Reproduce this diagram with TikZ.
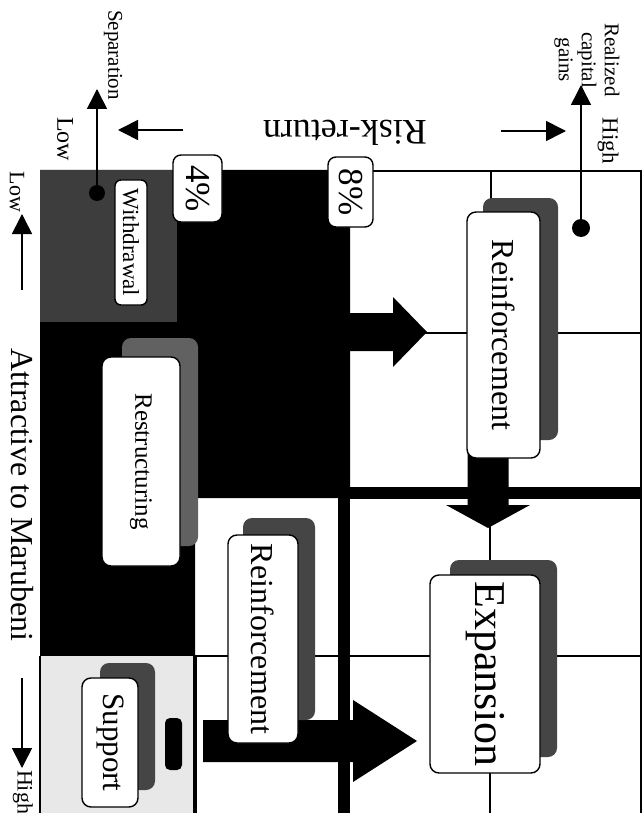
\documentclass[tikz,border=0pt]{standalone}
\usepackage{fontspec}
\setmainfont{Liberation Serif}
\usetikzlibrary{arrows.meta}
\newcommand{\fs}[1]{\fontsize{#1}{#1}\selectfont}
\begin{document}
\begin{tikzpicture}[x=1pt,y=-1pt,
  box/.style={draw, fill=white, rounded corners=9pt, line width=1.4pt, inner sep=0pt, rotate=-90},
  shadowbox/.style={fill=black!73, rounded corners=9pt},
  gridline/.style={line width=1.6pt},
  axis/.style={line width=1.6pt, -{Triangle[length=20pt,width=20pt]}},
  lbl/.style={inner sep=0pt, rotate=-90},
  blockarrow/.style={fill=black},
]
\useasboundingbox (0,0) rectangle (644,813);
\fill[white] (0,0) rectangle (644,813);
% background regions
\fill[black] (40,170) -- (350,170) -- (350,498) -- (195,498) -- (195,656) -- (40,656) -- cycle;
\fill[black!76] (40,170) rectangle (177,322);
\fill[black!9] (40,656) rectangle (193,813);
% grid lines
\draw[gridline] (350,171) -- (641,171) -- (641,813);
\draw[gridline] (350,333) -- (641,333);
\draw[gridline] (491,171) -- (491,493);
\draw[gridline] (195,656) -- (641,656);
\draw[gridline] (490,493) -- (490,813);
\draw[line width=12pt] (344,493) -- (641,493);
\draw[line width=12pt] (344,493) -- (344,813);
\draw[line width=4pt] (195,656) -- (195,813);
\draw[line width=1.2pt] (40,656) -- (40,813);
% axes
\node[circle, fill=black, minimum size=18pt, inner sep=0pt] (dotR) at (581,228) {};
\coordinate (tipR) at (581,85);
\draw[axis] (dotR.center) -- (tipR);
\node[circle, fill=black, minimum size=16pt, inner sep=0pt] (dotL) at (97,193) {};
\coordinate (tipL) at (97,89);
\draw[axis] (dotL.center) -- (tipL);
\coordinate (hlA) at (183,130);
\coordinate (hlB) at (118,130);
\draw[axis] (hlA) -- (hlB);
\coordinate (hrA) at (501,131);
\coordinate (hrB) at (566,131);
\draw[axis] (hrA) -- (hrB);
\coordinate (vlA) at (22,290);
\coordinate (vlB) at (22,214);
\draw[axis] (vlA) -- (vlB);
\coordinate (vbA) at (22,678);
\coordinate (vbB) at (22,768);
\draw[axis] (vbA) -- (vbB);
% block arrows
\fill[blockarrow] (345,313) -- (393,313) -- (393,297) -- (427,332) -- (393,367) -- (393,351) -- (345,351) -- cycle;
\fill[blockarrow] (467.5,450) -- (508.5,450) -- (508.5,505) -- (530,505) -- (488,528) -- (446,505) -- (467.5,505) -- cycle;
\fill[blockarrow] (203,720) -- (353,720) -- (353,700) -- (417,741) -- (353,782) -- (353,762) -- (203,762) -- cycle;
\fill[blockarrow, rounded corners=5pt] (165,718) rectangle (182,770);
% shadows
\fill[shadowbox] (483,198) rectangle (558,440);
\fill[shadowbox] (450,560) rectangle (557,757);
\fill[shadowbox] (243,518) rectangle (315,720);
\fill[shadowbox, fill=black!62] (122,338) rectangle (198,546);
\fill[shadowbox] (100,663) rectangle (155,790);
% boxes
\node[box, minimum width=246pt, minimum height=73pt, font=\fs{32}] (reinfA) at (503.5,335) {Reinforcement};
\node[box, minimum width=198pt, minimum height=110pt, font=\fs{44}] (expan) at (485,674) {Expansion};
\node[box, minimum width=208pt, minimum height=70pt, font=\fs{32}] (reinfB) at (263,639) {Reinforcement};
\node[box, minimum width=209pt, minimum height=78pt, font=\fs{25}] (restr) at (141,461.5) {Restructuring};
\node[box, minimum width=129pt, minimum height=56pt, font=\fs{31}] (supp) at (110,742.5) {Support};
\node[box, rounded corners=6pt, minimum width=125pt, minimum height=32pt, font=\fs{23}] (withd) at (131,242.5) {Withdrawal};
\node[box, rounded corners=8pt, minimum width=67pt, minimum height=49pt, font=\fs{35}] (pfour) at (197.5,188.5) {4\%};
\node[box, rounded corners=8pt, minimum width=70pt, minimum height=45pt, font=\fs{35}] (peight) at (350.5,192) {8\%};
% labels
\node[lbl, font=\fs{21}] (sep) at (113,55) {Separation};
\node[lbl, font=\fs{24}] (lowT) at (65,139) {Low};
\node[lbl, font=\fontsize{21}{23}\selectfont, align=center] (rcg) at (587,60) {Realized\\capital\\gains};
\node[lbl, font=\fs{23}] (highT) at (608,141) {High};
\node[inner sep=0pt, rotate=180, font=\fs{36}] (rr) at (345,133) {Risk-return};
\node[lbl, font=\fs{22}] (lowB) at (17,192) {Low};
\node[lbl, font=\fs{32}] (atm) at (22,495) {Attractive to Marubeni};
\node[lbl, font=\fs{22}] (highB) at (23,792) {High};
\end{tikzpicture}
\end{document}
